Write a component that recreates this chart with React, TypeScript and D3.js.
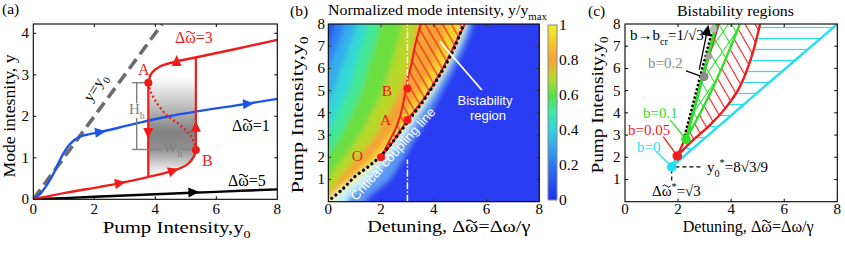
import React, { useEffect, useRef } from "react";
import * as d3 from "d3";

type Pt = [number, number];

const SERIF = "'Liberation Serif','Times New Roman',serif";
const SANS = "'Liberation Sans',Arial,sans-serif";
const RED = "#f01c1c";
const BLUE = "#1f55e6";
const CYAN = "#22e0f2";
const GREEN = "#2ee02a";
const GRAY = "#808080";
const DW = "\u0394\u03C9"; // delta omega (tilde drawn on top)

// ===== panel (a): mode intensity vs pump intensity =====
const aXTicks = [0, 2, 4, 6, 8];
const aYTicks = [0, 1, 2, 3, 4];
const aDiag: Pt[] = [[0, 0], [4.22, 4.22]];
const aBlue: Pt[] = [[0, 0], [0.25, 0.15], [0.44, 0.34], [0.65, 0.6], [0.82, 0.87], [1.0, 1.12], [1.2, 1.33], [1.53, 1.51], [1.85, 1.57], [2.19, 1.62], [3.28, 1.81], [4.37, 1.99], [5.47, 2.13], [6.56, 2.25], [8, 2.42]];
const aRedLow: Pt[] = [[0, 0], [1.09, 0.16], [2.19, 0.3], [2.84, 0.39], [3.72, 0.53], [4.59, 0.69], [5.03, 0.83], [5.25, 1.01], [5.33, 1.19]];
const aRedMid: Pt[] = [[5.33, 1.19], [5.19, 1.51], [4.81, 1.79], [4.37, 2.03], [3.99, 2.39], [3.83, 2.63], [3.77, 2.81]];
const aRedUp: Pt[] = [[3.77, 2.81], [3.88, 3.04], [4.15, 3.2], [4.7, 3.32], [5.47, 3.44], [6.56, 3.61], [8, 3.84]];
const aRedJumps: Pt[][] = [[[3.77, 2.81], [3.77, 0.53]], [[5.33, 3.42], [5.33, 1.19]]];
const aBlack: Pt[] = [[0, 0], [2, 0.06], [4, 0.12], [6, 0.18], [8, 0.24]];
const aTurning: Pt[] = [[3.77, 2.81], [5.33, 1.19]]; // A, B
// arrow heads: x, y, direction (deg)
const aBlueArrows = [[2.19, 1.62, -8], [7.04, 2.3, -5]];
const aRedArrows = [[2.84, 0.39, -10], [4.59, 0.69, -18], [4.7, 3.33, -90], [3.77, 1.6, 90], [5.33, 1.75, -90]];
const aBlackArrows = [[5.25, 0.17, -2]];
// hysteresis bracket (H_h, W_h)
const aHBar: Pt[][] = [[[3.39, 2.81], [3.39, 2.31]], [[3.39, 1.96], [3.39, 1.2]], [[3.24, 2.81], [3.77, 2.81]]];
const aWBar: Pt[][] = [[[3.24, 1.2], [4.2, 1.2]], [[4.87, 1.2], [5.3, 1.2]]];

// ===== panel (b): normalized intensity map =====
const bXTicks = [0, 2, 4, 6, 8];
const bYTicks = [1, 2, 3, 4, 5, 6, 7, 8];
const cbTicks = [0, 0.2, 0.4, 0.6, 0.8, 1];
const cmapStops = [0, 0.1, 0.2, 0.3, 0.4, 0.5, 0.6, 0.7, 0.8, 0.9, 1];
const cmapColors = ["#2030f0", "#2652f2", "#2e78f2", "#36a4f0", "#34d4e2", "#3ce8a8", "#5ae044", "#b8d82c", "#f4a234", "#f6c82c", "#f2f226"];
// contour positions (detuning) of the map at each pump-intensity row
const hmRows = [0, 1, 2, 3, 4, 5, 6, 7, 8];
const hmC20 = [-4, -3.5, -3, -2.5, -2, -1.5, -0.6, -0.05, 0.25];
const hmC30 = [-3, -2.5, -2, -1.5, -1, -0.35, 0, 0.35, 0.6];
const hmC40 = [-2, -1.6, -1.2, -0.7, -0.2, 0.2, 0.5, 0.8, 1.05];
const hmC50 = [-1, -0.7, -0.4, 0, 0.35, 0.75, 1.0, 1.25, 1.45];
const hmC60 = [-0.5, -0.25, 0, 0.5, 0.9, 1.25, 1.5, 1.75, 1.95];
const hmC70 = [-0.3, 0, 0.6, 1.2, 1.65, 2.05, 2.35, 2.6, 2.8];
const hmC80 = [-0.1, 0.4, 1.15, 1.8, 2.3, 2.7, 3.0, 3.2, 3.35];
const hmC90 = [-0.05, 0.7, 1.6, 2.3, 2.9, 3.45, 3.9, 4.25, 4.5];
const hmRidge = [0, 0.9, 1.94, 2.63, 3.27, 3.86, 4.37, 4.8, 5.12];
const hmR60 = [0.25, 1.15, 2.05, 2.72, 3.35, 3.93, 4.43, 4.86, 5.18];
const hmR30 = [0.7, 1.6, 2.35, 2.95, 3.5, 4.05, 4.53, 4.95, 5.26];
const hmR15 = [1.4, 2.3, 2.85, 3.35, 3.85, 4.3, 4.75, 5.15, 5.45];
const hmLeftLevels = [0.1, 0.22, 0.32, 0.42, 0.52, 0.62, 0.7, 0.8, 0.92];
const hmRightColors = ["#f2f4b8", "#c4eef8", "#5c98f2", "#2a3ef2"];
const bCritical: Pt[] = [[0.13, 0.15], [0.51, 0.53], [1.01, 1.13], [1.52, 1.58], [1.96, 2.03], [2.4, 2.63], [2.78, 3.23], [3.16, 3.83], [3.54, 4.43], [3.92, 5.11], [4.23, 5.71], [4.55, 6.38], [4.8, 6.98], [5.05, 7.73], [5.13, 8]];
const bBisLeft: Pt[] = [[2, 2], [2.27, 2.63], [2.53, 3.23], [2.72, 3.83], [2.84, 4.43], [2.94, 5.03], [3.03, 5.63], [3.16, 6.23], [3.28, 6.98], [3.51, 8]];
const bBisRight: Pt[] = [[2, 2], [2.5, 2.78], [3.0, 3.68], [3.66, 4.7], [4.29, 5.9], [4.92, 7.38], [5.18, 8]];
const bPoints: Pt[] = [[2, 2], [3, 3.68], [3, 5.1]]; // O, A, B
const bCut: Pt[][] = [[[3, 0], [3, 1.9]], [[3, 5.1], [3, 8]]];
const bPointer: Pt[] = [[4.24, 7.2], [5.82, 5.03]];

// ===== panel (c): bistability regions =====
const cXTicks = [0, 2, 4, 6, 8];
const cYTicks = [1, 2, 3, 4, 5, 6, 7, 8];
const cCyanUpper: Pt[] = [[1.76, 1.57], [1.97, 2.06], [2.3, 2.9], [2.8, 5.0], [3.2, 6.7], [3.55, 8]];
const cCyanLower: Pt[] = [[1.76, 1.57], [3, 2.85], [4, 3.88], [5, 4.92], [6, 5.95], [7, 6.97], [8, 8]];
const cRedLeft: Pt[] = [[1.97, 2.06], [2.3, 3.0], [2.8, 5.1], [3.2, 6.7], [3.52, 8]];
const cRedRight: Pt[] = [[1.97, 2.06], [2.57, 2.78], [3.2, 3.45], [3.83, 4.28], [4.33, 5.18], [4.77, 6.53], [5.09, 8]];
const cGreenLeft: Pt[] = [[2.3, 2.81], [3.45, 8]];
const cGreenRight: Pt[] = [[2.3, 2.81], [2.83, 3.98], [3.33, 5.18], [3.83, 6.53], [4.33, 8]];
const cLimit: Pt[] = [[2.25, 3.0], [3.33, 7.9]];
const cGrayPoints: Pt[] = [[2.98, 5.63], [3.16, 6.56], [3.33, 7.76]];
const cArrow: Pt[] = [[2.8, 5.95], [3.1, 7.7]];
const cCusps: Pt[] = [[1.76, 1.57], [1.97, 2.06], [2.3, 2.81]]; // b=0, 0.05, 0.1
const cLeaders: Pt[][] = [[[1.19, 2.25], [1.76, 1.57]], [[1.44, 2.93], [1.97, 2.06]], [[1.7, 3.68], [2.3, 2.81]], [[2.3, 5.89], [2.83, 5.66]]];
const cGuideH: Pt[] = [[1.9, 1.57], [2.95, 1.57]];
const cGuideV: Pt[] = [[1.76, 1.45], [1.76, 0.95]];

export default function App() {
  const svgRef = useRef<SVGSVGElement | null>(null);

  useEffect(() => {
    const svg = d3.select(svgRef.current);
    svg.selectAll("*").remove();
    const defs = svg.append("defs");

    // text with sub/superscripts, optional tildes over given characters
    const text = (g: any, x: number, y: number, parts: any, o: any = {}) => {
      const size = o.size ?? 15;
      const fill = o.fill ?? "#000";
      const tr = o.rotate ? `rotate(${o.rotate},${x},${y})` : null;
      const t = g.append("text")
        .attr("x", x).attr("y", y)
        .attr("font-family", o.family ?? SERIF)
        .attr("font-size", size)
        .attr("fill", fill)
        .attr("text-anchor", o.anchor ?? "start");
      if (tr) t.attr("transform", tr);
      if (o.len) t.attr("textLength", o.len).attr("lengthAdjust", "spacingAndGlyphs");
      const list = typeof parts === "string" ? [{ t: parts }] : parts;
      let shift = 0;
      list.forEach((p: any) => {
        const target = p.sub ? size * 0.3 : p.sup ? -size * 0.38 : 0;
        const ts = t.append("tspan").text(p.t);
        if (target !== shift) ts.attr("dy", target - shift);
        if (p.sub || p.sup) ts.attr("font-size", size * 0.68);
        shift = target;
      });
      (o.tilde ?? []).forEach((i: number) => {
        const node = t.node();
        const s = node.getStartPositionOfChar(i);
        const e = node.getEndPositionOfChar(i);
        const w = (e.x - s.x) * 0.8;
        const cx = (s.x + e.x) / 2;
        const ty = s.y - size * 0.66;
        const p = g.append("path")
          .attr("d", `M${cx - w / 2},${ty}q${w / 4},${-size * 0.16} ${w / 2},0t${w / 2},0`)
          .attr("fill", "none").attr("stroke", fill).attr("stroke-width", size * 0.065);
        if (tr) p.attr("transform", tr);
      });
      return t;
    };

    const frame = (g: any, x0: number, x1: number, y0: number, y1: number, xt: number[], yt: number[], color = "#000") => {
      xt.forEach((x) => {
        g.append("line").attr("x1", x).attr("x2", x).attr("y1", y1).attr("y2", y1 - 3).attr("stroke", color);
        g.append("line").attr("x1", x).attr("x2", x).attr("y1", y0).attr("y2", y0 + 3).attr("stroke", color);
      });
      yt.forEach((y) => {
        g.append("line").attr("x1", x0).attr("x2", x0 + 3).attr("y1", y).attr("y2", y).attr("stroke", color);
        g.append("line").attr("x1", x1).attr("x2", x1 - 3).attr("y1", y).attr("y2", y).attr("stroke", color);
      });
      g.append("rect").attr("x", x0).attr("y", y0).attr("width", x1 - x0).attr("height", y1 - y0)
        .attr("fill", "none").attr("stroke", "#000").attr("stroke-width", 1.1);
    };

    const hatch = (id: string, color: string, angle: number, gap: number, w = 1.1) => {
      const p = defs.append("pattern").attr("id", id).attr("patternUnits", "userSpaceOnUse")
        .attr("width", gap).attr("height", gap).attr("patternTransform", `rotate(${angle})`);
      p.append("line").attr("x1", gap / 2).attr("x2", gap / 2).attr("y1", 0).attr("y2", gap)
        .attr("stroke", color).attr("stroke-width", w);
    };

    const triangle = (g: any, x: number, y: number, ang: number, color: string) => {
      g.append("path").attr("d", "M6,0L-5,-5L-5,5Z")
        .attr("transform", `translate(${x},${y}) rotate(${ang})`).attr("fill", color);
    };

    // =================== (a) ===================
    const xa = d3.scaleLinear().domain([0, 8]).range([33.3, 277.3]);
    const ya = d3.scaleLinear().domain([0, 4]).range([199.3, 33.3]);
    const la = d3.line<Pt>().x((d) => xa(d[0])).y((d) => ya(d[1]));
    const laSmooth = d3.line<Pt>().x((d) => xa(d[0])).y((d) => ya(d[1])).curve(d3.curveCatmullRom.alpha(0.5));
    const ga = svg.append("g");
    defs.append("clipPath").attr("id", "clipA").append("rect")
      .attr("x", 33.3).attr("y", 24).attr("width", 244).attr("height", 175.3);

    const shade = defs.append("linearGradient").attr("id", "shadeA").attr("x1", 0).attr("y1", 0).attr("x2", 0).attr("y2", 1);
    [[0, "#ffffff"], [0.2, "#d4d4d4"], [0.55, "#828282"], [0.72, "#909090"], [0.9, "#e0e0e0"], [1, "#ffffff"]]
      .forEach(([o, c]) => shade.append("stop").attr("offset", o).attr("stop-color", c));
    const shadePts: Pt[] = [[3.77, 2.95], [5.33, 2.95], ...aRedLow.filter((p) => p[0] >= 3.7).reverse()];
    ga.append("path").attr("d", la(shadePts) + "Z").attr("fill", "url(#shadeA)");

    const ca = ga.append("g").attr("clip-path", "url(#clipA)");
    ca.append("path").attr("d", la(aDiag)).attr("fill", "none").attr("stroke", "#6c6c6c")
      .attr("stroke-width", 3.6).attr("stroke-dasharray", "12,6");
    ca.append("path").attr("d", laSmooth(aBlack)).attr("fill", "none").attr("stroke", "#000").attr("stroke-width", 2.4);
    ca.append("path").attr("d", laSmooth(aBlue)).attr("fill", "none").attr("stroke", BLUE).attr("stroke-width", 2.4);
    ca.append("path").attr("d", laSmooth(aRedLow)).attr("fill", "none").attr("stroke", RED).attr("stroke-width", 2.4);
    ca.append("path").attr("d", laSmooth(aRedUp)).attr("fill", "none").attr("stroke", RED).attr("stroke-width", 2.4);
    aRedJumps.forEach((s) => ca.append("path").attr("d", la(s)).attr("stroke", RED).attr("stroke-width", 2.2));
    ca.append("path").attr("d", laSmooth(aRedMid)).attr("fill", "none").attr("stroke", RED)
      .attr("stroke-width", 2.2).attr("stroke-dasharray", "2,2.6");

    [...aHBar, ...aWBar].forEach((s) => ga.append("path").attr("d", la(s)).attr("stroke", GRAY).attr("stroke-width", 1.4));
    text(ga, 129, 114, [{ t: "H" }, { t: "h", sub: true }], { fill: GRAY, size: 15 });
    text(ga, 163, 152, [{ t: "W" }, { t: "h", sub: true }], { fill: GRAY, size: 15 });

    aBlueArrows.forEach(([x, y, a]) => triangle(ga, xa(x), ya(y), a, BLUE));
    aRedArrows.forEach(([x, y, a]) => triangle(ga, xa(x), ya(y), a, RED));
    aBlackArrows.forEach(([x, y, a]) => triangle(ga, xa(x), ya(y), a, "#000"));
    aTurning.forEach(([x, y]) => ga.append("circle").attr("cx", xa(x)).attr("cy", ya(y)).attr("r", 4).attr("fill", RED));

    text(ga, 138, 75, "A", { fill: RED, size: 16 });
    text(ga, 202, 166, "B", { fill: RED, size: 16 });
    text(ga, 175, 43, DW + "=3", { fill: RED, size: 16, tilde: [1] });
    text(ga, 232, 131, DW + "=1", { size: 16, tilde: [1] });
    text(ga, 228, 186, DW + "=5", { size: 16, tilde: [1] });
    text(ga, 99, 90, [{ t: "y=y" }, { t: "0", sub: true }], { size: 15, rotate: -58, anchor: "middle", len: 30 });

    frame(ga, 33.3, 277.3, 24, 199.3, aXTicks.slice(1, -1).map(xa), aYTicks.slice(1).map(ya));
    aXTicks.forEach((v) => text(ga, xa(v), 214, String(v), { anchor: "middle", size: 15 }));
    aYTicks.forEach((v) => text(ga, 29, ya(v) + 5, String(v), { anchor: "end", size: 15 }));
    text(ga, 102.7, 233, [{ t: "Pump Intensity,y" }, { t: "0", sub: true }], { size: 16.5, len: 148 });
    text(ga, 14.5, 116, "Mode intesnity, y", { size: 16.5, rotate: -90, anchor: "middle", len: 123 });
    text(ga, 2, 14, "(a)", { size: 15.5 });

    // =================== (b) ===================
    const xb = d3.scaleLinear().domain([0, 8]).range([328.3, 539.3]);
    const yb = d3.scaleLinear().domain([0, 8]).range([201.7, 24]);
    const lb = d3.line<Pt>().x((d) => xb(d[0])).y((d) => yb(d[1]));
    const lbSmooth = d3.line<Pt>().x((d) => xb(d[0])).y((d) => yb(d[1])).curve(d3.curveCatmullRom.alpha(0.5));
    const cmap = d3.scaleLinear<string>().domain(cmapStops).range(cmapColors).interpolate(d3.interpolateRgb);
    const gb = svg.append("g");
    defs.append("clipPath").attr("id", "clipB").append("rect")
      .attr("x", 328.3).attr("y", 24).attr("width", 211).attr("height", 177.7);
    defs.append("filter").attr("id", "hmBlur").attr("x", "-0.1").attr("y", "-0.1").attr("width", 1.2).attr("height", 1.2)
      .append("feGaussianBlur").attr("stdDeviation", 2.6);

    const cb = gb.append("g").attr("clip-path", "url(#clipB)");
    const hm = cb.append("g").attr("filter", "url(#hmBlur)");
    const bounds = [hmRows.map(() => -6), hmC20, hmC30, hmC40, hmC50, hmC60, hmC70, hmC80, hmC90, hmRidge, hmR60, hmR30, hmR15];
    const bandColors = [...hmLeftLevels.map((v) => cmap(v)), ...hmRightColors];
    bounds.forEach((b, k) => {
      const pts: Pt[] = [[b[0], -1.5], ...hmRows.map((r, i) => [b[i], r] as Pt), [b[b.length - 1], 9.5]];
      const d = lbSmooth(pts) + `L${xb(14)},${yb(9.5)}L${xb(14)},${yb(-1.5)}Z`;
      hm.append("path").attr("d", d).attr("fill", bandColors[k]);
    });

    hatch("hatchB", RED, -30, 7.5, 1.1);
    const bisPath = lbSmooth(bBisLeft) + lbSmooth([...bBisRight].reverse())!.replace(/^M/, "L") + "Z";
    cb.append("path").attr("d", bisPath).attr("fill", "url(#hatchB)");
    cb.append("path").attr("d", lbSmooth(bBisLeft)).attr("fill", "none").attr("stroke", RED).attr("stroke-width", 2);
    cb.append("path").attr("d", lbSmooth(bBisRight)).attr("fill", "none").attr("stroke", RED).attr("stroke-width", 2);
    cb.append("path").attr("d", lbSmooth(bCritical)).attr("fill", "none").attr("stroke", "#000")
      .attr("stroke-width", 3.2).attr("stroke-linecap", "round").attr("stroke-dasharray", "0.1,5.2");
    bCut.forEach((s) => cb.append("path").attr("d", lb(s)).attr("stroke", "#fff").attr("stroke-width", 1.5)
      .attr("stroke-dasharray", "7,2,1.5,2"));
    cb.append("path").attr("d", lb(bPointer)).attr("stroke", "#fff").attr("stroke-width", 1.8);
    bPoints.forEach(([x, y]) => cb.append("circle").attr("cx", xb(x)).attr("cy", yb(y)).attr("r", 4).attr("fill", RED));
    text(cb, 356, 201.5, "Critical coupling line", { family: SANS, fill: "#fff", size: 13, rotate: -48, len: 120 });
    text(gb, 485, 105, "Bistability", { family: SANS, fill: "#fff", size: 13, anchor: "middle" });
    text(gb, 488, 120, "region", { family: SANS, fill: "#fff", size: 13, anchor: "middle" });
    text(gb, 381.7, 96, "B", { fill: RED, size: 15.5 });
    text(gb, 380, 125, "A", { fill: RED, size: 15.5 });
    text(gb, 351.7, 161, "O", { fill: RED, size: 15.5 });

    frame(gb, 328.3, 539.3, 24, 201.7, bXTicks.slice(1, -1).map(xb), bYTicks.slice(0, -1).map(yb), "#333");
    bXTicks.forEach((v) => text(gb, xb(v), 214, String(v), { anchor: "middle", size: 15 }));
    bYTicks.forEach((v) => text(gb, 325, yb(v) + 5, String(v), { anchor: "end", size: 15 }));

    // colorbar
    const cbs = d3.scaleLinear().domain([0, 1]).range([200, 25]);
    const grad = defs.append("linearGradient").attr("id", "cbar").attr("x1", 0).attr("y1", 1).attr("x2", 0).attr("y2", 0);
    cmapStops.forEach((s, i) => grad.append("stop").attr("offset", s).attr("stop-color", cmapColors[i]));
    gb.append("rect").attr("x", 548).attr("y", cbs(1)).attr("width", 9).attr("height", cbs(0) - cbs(1))
      .attr("fill", "url(#cbar)").attr("stroke", "#888").attr("stroke-width", 1);
    cbTicks.forEach((v) => text(gb, 559, cbs(v) + 5, String(v), { size: 15.5 }));

    text(gb, 303, 115, [{ t: "Pump Intensity,y" }, { t: "0", sub: true }], { size: 17, rotate: -90, anchor: "middle", len: 157 });
    text(gb, 367.3, 232, "Detuning, " + DW + "=\u0394\u03C9/\u03B3", { size: 16, len: 163, tilde: [11] });
    text(gb, 328, 15, [{ t: "Normalized mode intensity, y/y" }, { t: "max", sub: true }], { size: 15.5, len: 219 });
    text(gb, 290, 16, "(b)", { size: 15.5 });

    // =================== (c) ===================
    const xc = d3.scaleLinear().domain([0, 8]).range([625, 837.3]);
    const yc = d3.scaleLinear().domain([0, 8]).range([201.7, 24]);
    const lc = d3.line<Pt>().x((d) => xc(d[0])).y((d) => yc(d[1]));
    const lcSmooth = d3.line<Pt>().x((d) => xc(d[0])).y((d) => yc(d[1])).curve(d3.curveCatmullRom.alpha(0.5));
    const poly = (segs: Pt[][]) => segs.map((s, i) => (i ? lcSmooth(s)!.replace(/^M/, "L") : lcSmooth(s))).join("") + "Z";
    const gc = svg.append("g");
    defs.append("clipPath").attr("id", "clipC").append("rect")
      .attr("x", 625).attr("y", 24).attr("width", 212.3).attr("height", 177.7);
    const cc = gc.append("g").attr("clip-path", "url(#clipC)");

    hatch("hatchCyan", CYAN, 90, 11, 1.2);
    hatch("hatchRed", RED, -30, 8.5, 1.1);
    hatch("hatchGreenA", GREEN, -30, 11, 1);
    hatch("hatchGreenB", GREEN, 35, 11, 1);
    cc.append("path").attr("d", poly([cCyanUpper, [[8, 8]], [...cCyanLower].reverse()])).attr("fill", "url(#hatchCyan)");
    const redReg = poly([cRedLeft, [...cRedRight].reverse()]);
    cc.append("path").attr("d", redReg).attr("fill", "#fff");
    cc.append("path").attr("d", redReg).attr("fill", "url(#hatchRed)");
    const greenReg = poly([cGreenLeft, [...cGreenRight].reverse()]);
    cc.append("path").attr("d", greenReg).attr("fill", "#fff");
    cc.append("path").attr("d", greenReg).attr("fill", "url(#hatchGreenA)");
    cc.append("path").attr("d", greenReg).attr("fill", "url(#hatchGreenB)");

    cc.append("path").attr("d", lcSmooth(cCyanLower)).attr("fill", "none").attr("stroke", CYAN).attr("stroke-width", 2.4);
    cc.append("path").attr("d", lcSmooth(cCyanUpper)).attr("fill", "none").attr("stroke", CYAN).attr("stroke-width", 2.2);
    cc.append("path").attr("d", lcSmooth(cRedRight)).attr("fill", "none").attr("stroke", RED).attr("stroke-width", 2.4);
    cc.append("path").attr("d", lcSmooth(cRedLeft)).attr("fill", "none").attr("stroke", RED).attr("stroke-width", 2.2);
    cc.append("path").attr("d", lcSmooth(cGreenRight)).attr("fill", "none").attr("stroke", GREEN).attr("stroke-width", 2.4);
    cc.append("path").attr("d", lc(cGreenLeft)).attr("fill", "none").attr("stroke", GREEN).attr("stroke-width", 3);
    cc.append("path").attr("d", lc(cLimit)).attr("fill", "none").attr("stroke", "#000")
      .attr("stroke-width", 2.6).attr("stroke-linecap", "round").attr("stroke-dasharray", "0.1,4.2");

    const grayFill = ["#8a8a8a", "#a4a4a4", "#bcbcbc"];
    cGrayPoints.forEach(([x, y], i) => cc.append("circle").attr("cx", xc(x)).attr("cy", yc(y))
      .attr("r", i ? 3.5 : 4.5).attr("fill", grayFill[i]));
    cc.append("path").attr("d", lc(cArrow)).attr("stroke", "#000").attr("stroke-width", 1.3);
    const [ax0, ay0] = [xc(cArrow[0][0]), yc(cArrow[0][1])];
    const [ax1, ay1] = [xc(cArrow[1][0]), yc(cArrow[1][1])];
    triangle(cc, ax1, ay1, (Math.atan2(ay1 - ay0, ax1 - ax0) * 180) / Math.PI, "#000");

    const leaderColors = [CYAN, RED, GREEN, "#000"];
    cLeaders.forEach((s, i) => gc.append("path").attr("d", lc(s)).attr("stroke", leaderColors[i]).attr("stroke-width", 1.3));
    [cGuideH, cGuideV].forEach((s) => gc.append("path").attr("d", lc(s)).attr("stroke", "#000")
      .attr("stroke-width", 1.2).attr("stroke-dasharray", "4,3"));
    const cuspColors = [CYAN, RED, GREEN];
    cCusps.forEach(([x, y], i) => gc.append("circle").attr("cx", xc(x)).attr("cy", yc(y)).attr("r", 4.8).attr("fill", cuspColors[i]));

    text(gc, 630, 40, [{ t: "b\u2192b" }, { t: "cr", sub: true }, { t: "=1/\u221A3" }], { size: 15 });
    text(gc, 648, 68, "b=0.2", { size: 15, fill: "#8c8c8c" });
    text(gc, 643, 118, "b=0.1", { size: 15, fill: GREEN });
    text(gc, 628, 135, "b=0.05", { size: 15, fill: RED });
    text(gc, 637, 152, "b=0", { size: 15, fill: CYAN });
    text(gc, 707, 172, [{ t: "y" }, { t: "0", sub: true }, { t: "*", sup: true }, { t: "=8\u221A3/9" }], { size: 15 });
    text(gc, 652, 196, [{ t: DW }, { t: "*", sup: true }, { t: "=\u221A3" }], { size: 15, tilde: [1] });

    frame(gc, 625, 837.3, 24, 201.7, cXTicks.slice(1, -1).map(xc), cYTicks.slice(0, -1).map(yc));
    cXTicks.forEach((v) => text(gc, xc(v), 214, String(v), { anchor: "middle", size: 15 }));
    cYTicks.forEach((v) => text(gc, 620.5, yc(v) + 5, String(v), { anchor: "end", size: 15 }));
    text(gc, 603, 105, [{ t: "Pump Intensity,y" }, { t: "0", sub: true }], { size: 17, rotate: -90, anchor: "middle", len: 137 });
    text(gc, 682.7, 232, "Detuning, " + DW + "=\u0394\u03C9/\u03B3", { size: 16, len: 131, tilde: [11] });
    text(gc, 735.5, 16, "Bistability regions", { size: 15.5, anchor: "middle", len: 117 });
    text(gc, 588, 16, "(c)", { size: 15.5 });
  }, []);

  return (
    <svg
      ref={svgRef}
      width={845}
      height={260}
      style={{ position: "absolute", left: 0, top: 0, background: "#fff" }}
    />
  );
}
